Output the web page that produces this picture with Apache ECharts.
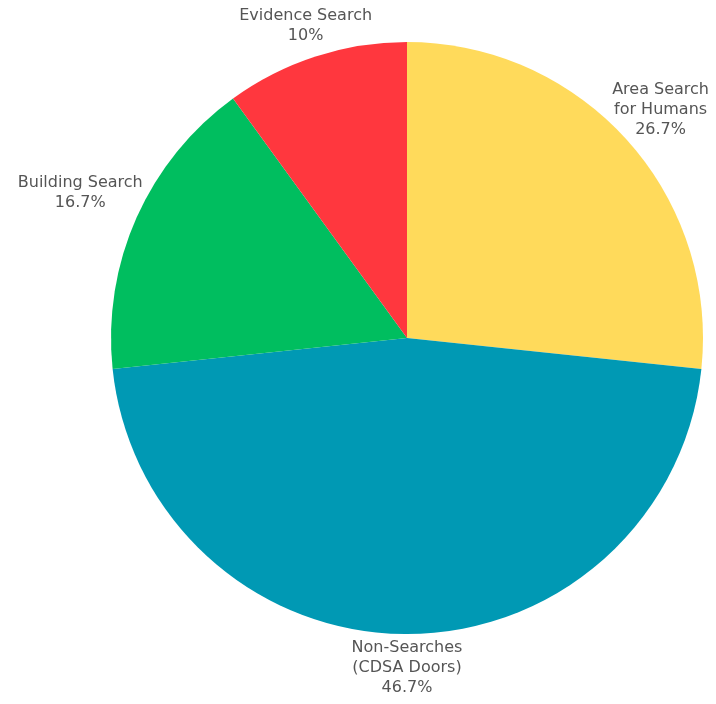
<!DOCTYPE html>
<html>
<head>
<meta charset="utf-8">
<script src="https://cdn.jsdelivr.net/npm/echarts@6/dist/echarts.min.js"></script>
<style>
  html, body { margin: 0; padding: 0; background: #fff; }
  #chart { width: 716px; height: 704px; }
</style>
</head>
<body>
<div id="chart"></div>
<script>
// Share of tasks by type (counts out of 30)
const categories = ['Area Search\nfor Humans', 'Non-Searches\n(CDSA Doors)', 'Building Search', 'Evidence Search'];
const counts = [8, 14, 5, 3];
const colors = ['#FFDA5B', '#0099B4', '#00BE5F', '#FF373E'];

const cx = 407, cy = 338, R = 296, gap = 4;
const total = counts.reduce((a, b) => a + b, 0);

// mid angle (radians, clockwise from 12 o'clock) of every slice
const midAngles = [];
let acc = 0;
counts.forEach(v => {
  midAngles.push(((acc + v / 2) / total) * Math.PI * 2);
  acc += v;
});

const chart = echarts.init(document.getElementById('chart'), null, { renderer: 'canvas' });
chart.setOption({
  backgroundColor: '#ffffff',
  animation: false,
  series: [{
    type: 'pie',
    center: [cx, cy],
    radius: [0, R],
    startAngle: 90,
    clockwise: true,
    data: categories.map((name, i) => ({ name, value: counts[i], itemStyle: { color: colors[i] } })),
    label: {
      show: true,
      position: 'outside',
      overflow: 'none',
      bleedMargin: 0,
      formatter: p => p.name + '\n' + (Math.round(p.percent * 10) / 10) + '%',
      color: '#555555',
      fontFamily: 'DejaVu Sans',
      fontSize: 16,
      lineHeight: 20,
      align: 'center'
    },
    labelLine: { show: false },
    // centre each label on its slice's bisector, just clear of the rim
    labelLayout: function (params) {
      const a = midAngles[params.dataIndex];
      const s = Math.sin(a), c = Math.cos(a);
      const hw = params.labelRect.width / 2, hh = params.labelRect.height / 2;
      const d = R + gap + Math.sqrt((s * hw) * (s * hw) + (c * hh) * (c * hh));
      return {
        x: cx + s * d,
        y: cy - c * d,
        align: 'center',
        verticalAlign: 'middle'
      };
    },
    emphasis: { disabled: true }
  }]
});
</script>
</body>
</html>
